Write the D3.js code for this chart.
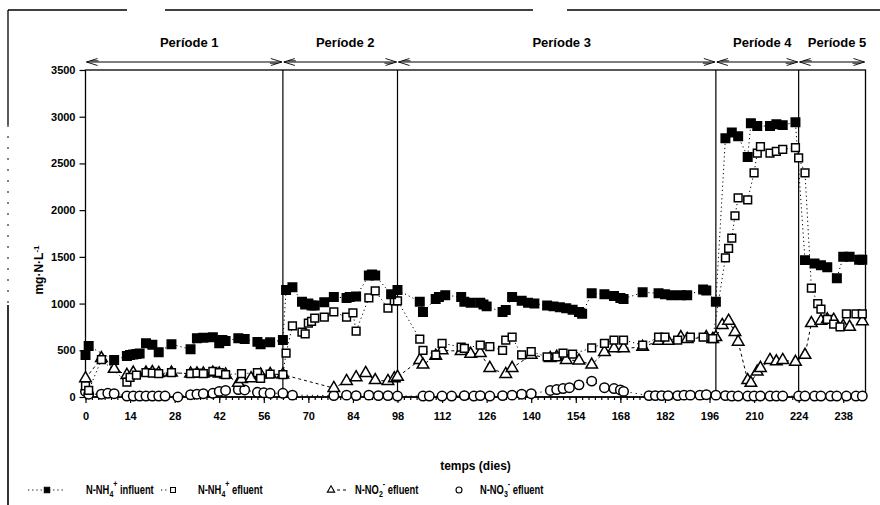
<!DOCTYPE html>
<html>
<head>
<meta charset="utf-8">
<script src="https://cdn.jsdelivr.net/npm/d3@7"></script>
<style>
  body { margin: 0; background: #fff; }
  text { font-family: "Liberation Sans Narrow", "Liberation Sans", Arial, sans-serif; fill: #000; }
</style>
</head>
<body>
<div id="chart"></div>
<script>
// ---- data ----

// N-NH4+ influent (filled marks)
const influentDays = [0, 1, 9, 13, 14, 15, 16, 17, 19, 21, 23, 27, 33, 35, 37, 40, 42, 43, 44, 48, 50, 54, 55, 58, 62,
  63, 65, 68, 69, 70, 71, 72, 75, 78, 82, 83, 85, 89, 90, 91, 96, 98,
  105, 106, 110, 111, 113, 118, 119, 121, 124, 125, 126, 131, 132, 134, 137, 139, 141, 145, 147, 149, 151, 153, 155, 156, 159, 163, 166, 168, 169, 175, 180, 182, 184, 187, 189, 194, 195, 198,
  201, 203, 205, 208, 209, 211, 215, 217, 219, 223, 226, 229, 231, 233, 236, 238, 240, 243, 244];
const influentValues = [450, 545, 395, 440, 450, 455, 460, 465, 575, 560, 480, 565, 510, 630, 635, 640, 575, 610, 600, 630, 620, 590, 565, 585, 610,
  1145, 1175, 1020, 990, 1000, 980, 980, 1015, 1070, 1060, 1070, 1075, 1300, 1310, 1300, 1100, 1145,
  1020, 910, 1050, 1070, 1090, 1070, 1020, 1010, 1010, 990, 970, 910, 930, 1070, 1030, 1010, 1000, 980, 970, 960, 950, 935, 910, 890, 1110, 1100, 1080, 1060, 1050, 1120, 1110, 1100, 1090, 1090, 1090, 1150, 1140, 1020,
  2770, 2830, 2790, 2570, 2930, 2900, 2900, 2920, 2910, 2940, 1465, 1430, 1410, 1390, 1270, 1500, 1500, 1470, 1470];

// N-NH4+ effluent (open squares)
const nh4Days = [0, 1, 5, 13, 14, 16, 19, 21, 23, 27, 33, 35, 37, 40, 42, 44, 49, 54, 55, 58, 62,
  63, 65, 68, 69, 70, 71, 72, 75, 78, 82, 84, 85, 89, 91, 95, 97,
  98, 105, 106, 110, 112, 118, 119, 124, 127, 131, 132, 134, 137, 140, 145, 148, 150, 153, 159, 163, 166, 169, 175, 180, 182, 186, 190, 194, 197,
  201, 202, 203, 204, 205, 208, 210, 211, 212, 215, 217, 219, 223, 224, 226, 228, 230, 231, 233, 235, 237, 239, 242, 244];
const nh4Values = [120, 70, 400, 160, 210, 235, 260, 255, 250, 260, 250, 255, 250, 275, 260, 240, 250, 260, 200, 245, 240,
  470, 760, 695, 675, 790, 810, 845, 855, 910, 855, 900, 705, 1060, 1135, 950, 1030,
  1030, 620, 500, 450, 575, 535, 520, 555, 540, 500, 610, 640, 450, 485, 430, 430, 470, 460, 525, 575, 610, 610, 555, 640, 640, 610, 640, 640, 625,
  1490, 1590, 1700, 1940, 2130, 2110, 2400, 2610, 2680, 2610, 2630, 2650, 2670, 2560, 2400, 1165, 1000, 940, 830, 780, 750, 890, 890, 890];

// N-NO2- effluent (open triangles)
const no2Days = [0, 5, 9, 13, 15, 19, 21, 23, 27, 33, 35, 37, 40, 42, 44, 48, 49, 52, 55, 58, 62,
  78, 82, 85, 88, 91, 95, 97,
  98, 105, 106, 110, 112, 118, 121, 124, 127, 132, 134, 140, 146, 148, 151, 155, 159, 163, 166, 169, 175, 180, 183, 187, 189, 195, 197,
  198, 200, 202, 204, 205, 208, 209, 211, 212, 215, 217, 219, 223, 226, 228, 231, 233, 235, 238, 240, 244];
const no2Values = [200, 415, 300, 235, 260, 260, 265, 255, 260, 250, 250, 250, 260, 250, 240, 150, 190, 200, 240, 245, 240,
  95, 170, 210, 255, 180, 170, 200,
  215, 395, 345, 440, 500, 490, 460, 470, 310, 245, 310, 450, 415, 430, 395, 390, 345, 480, 520, 520, 535, 600, 600, 640, 620, 640, 620,
  640, 770, 815, 695, 590, 180, 150, 270, 310, 395, 380, 395, 375, 450, 790, 815, 830, 825, 760, 750, 810];

// N-NO3- effluent (open circles)
const no3Days = [0, 1, 5, 7, 9, 13, 15, 17, 19, 21, 23, 25, 29, 33, 35, 37, 40, 42, 44, 48, 50, 54, 56, 58, 62,
  65, 78, 82, 85, 89, 92, 95, 98,
  106, 108, 112, 115, 119, 122, 124, 127, 131, 134, 137, 140, 146, 148, 150, 152, 155, 159, 163, 166, 168, 169, 177, 179, 181, 183, 186, 188, 190, 193, 195, 198,
  201, 203, 205, 208, 210, 212, 215, 217, 219, 224, 226, 229, 231, 234, 236, 239, 242, 244];
const no3Values = [60, 30, 30, 40, 35, 10, 10, 10, 10, 10, 10, 10, 0, 25, 30, 35, 40, 60, 70, 80, 75, 50, 45, 40, 40,
  20, 15, 20, 15, 20, 15, 15, 10,
  10, 10, 10, 10, 15, 10, 15, 10, 15, 20, 30, 35, 70, 80, 90, 100, 130, 170, 100, 90, 75, 60, 15, 15, 15, 15, 15, 20, 20, 20, 25, 20,
  15, 10, 10, 10, 10, 10, 10, 10, 10, 10, 10, 10, 10, 10, 10, 10, 10, 10];

// periods
const periodNames = ["Període 1", "Període 2", "Període 3", "Període 4", "Període 5"];
const periodStarts = [0, 62, 98, 198, 224];
const periodEnds = [62, 98, 198, 224, 245];

const xTicks = [0, 14, 28, 42, 56, 70, 84, 98, 112, 126, 140, 154, 168, 182, 196, 210, 224, 238];
const yTicks = [0, 500, 1000, 1500, 2000, 2500, 3000, 3500];

// ---- layout ----
const W = 880, H = 505;
const svg = d3.select("#chart").append("svg")
    .attr("width", W)
    .attr("height", H);

const x = d3.scaleLinear().domain([0, 245]).range([85.5, 865.5]);
const y = d3.scaleLinear().domain([0, 3500]).range([397, 70]);

// scan frame remains (page border)
svg.append("line").attr("x1", 8).attr("y1", 10).attr("x2", 127).attr("y2", 10).attr("stroke", "#000").attr("stroke-width", 1.3);
svg.append("line").attr("x1", 165).attr("y1", 10).attr("x2", 533).attr("y2", 10).attr("stroke", "#000").attr("stroke-width", 1.3);
svg.append("line").attr("x1", 567).attr("y1", 10).attr("x2", 880).attr("y2", 10).attr("stroke", "#000").attr("stroke-width", 1.3);
svg.append("line").attr("x1", 8).attr("y1", 10).attr("x2", 8).attr("y2", 125).attr("stroke", "#000").attr("stroke-width", 1.3);
svg.append("line").attr("x1", 8).attr("y1", 125).attr("x2", 8).attr("y2", 305).attr("stroke", "#000").attr("stroke-width", 1).attr("stroke-dasharray", "2,9");
svg.append("line").attr("x1", 8).attr("y1", 305).attr("x2", 8).attr("y2", 505).attr("stroke", "#000").attr("stroke-width", 1.6);

// plot frame
svg.append("rect")
    .attr("x", x(0)).attr("y", y(3500))
    .attr("width", x(245) - x(0)).attr("height", y(0) - y(3500))
    .attr("fill", "none").attr("stroke", "#000").attr("stroke-width", 1.3);

// period separators
svg.selectAll(".sep")
  .data(periodStarts.slice(1))
  .enter().append("line")
    .attr("x1", d => x(d)).attr("x2", d => x(d))
    .attr("y1", y(3500)).attr("y2", y(0))
    .attr("stroke", "#000").attr("stroke-width", 1.2);

// period arrows + labels
const arrowY = 62;
periodNames.forEach(function(name, i) {
  const x0 = x(periodStarts[i]) + 1, x1 = x(periodEnds[i]) - 1;
  svg.append("line").attr("x1", x0).attr("x2", x1).attr("y1", arrowY).attr("y2", arrowY)
    .attr("stroke", "#000").attr("stroke-width", 1);
  svg.append("path")
    .attr("d", `M${x0 + 11},${arrowY - 3.5} L${x0},${arrowY} L${x0 + 11},${arrowY + 3.5} M${x0 + 4},${arrowY - 1.2} L${x0 + 12},${arrowY - 1.2}`)
    .attr("fill", "none").attr("stroke", "#000").attr("stroke-width", 0.9);
  svg.append("path")
    .attr("d", `M${x1 - 11},${arrowY - 3.5} L${x1},${arrowY} L${x1 - 11},${arrowY + 3.5} M${x1 - 4},${arrowY + 1.2} L${x1 - 12},${arrowY + 1.2}`)
    .attr("fill", "none").attr("stroke", "#000").attr("stroke-width", 0.9);
  svg.append("text")
    .attr("x", (x0 + x1) / 2 + 5).attr("y", 47)
    .attr("text-anchor", "middle")
    .style("font-size", "13px")
    .style("font-weight", "bold")
    .text(name);
});

// axes
const yAxis = svg.append("g")
    .attr("transform", `translate(${x(0)},0)`)
    .call(d3.axisLeft(y).tickValues(yTicks).tickSize(6).tickPadding(4).tickFormat(d3.format("d")));
const xMinor = svg.append("g")
    .attr("transform", `translate(0,${y(0)})`)
    .call(d3.axisBottom(x).tickValues(d3.range(0, 245, 2)).tickSize(3).tickFormat(""));
const xAxis = svg.append("g")
    .attr("transform", `translate(0,${y(0)})`)
    .call(d3.axisBottom(x).tickValues(xTicks).tickSize(6).tickPadding(9));

[yAxis, xAxis, xMinor].forEach(function(g) {
  g.select(".domain").remove();
  g.selectAll("line").attr("stroke", "#000").attr("stroke-width", 1.2);
  g.selectAll("text")
    .style("font-family", '"Liberation Sans Narrow", "Liberation Sans", Arial, sans-serif')
    .style("font-size", "11px")
    .style("font-weight", "bold");
});
svg.append("line").attr("x1", x(0)).attr("x2", x(245)).attr("y1", y(0)).attr("y2", y(0))
  .attr("stroke", "#000").attr("stroke-width", 1.5);

// axis titles
svg.append("text")
    .attr("transform", "translate(43,270) rotate(-90)")
    .attr("text-anchor", "middle")
    .style("font-size", "12px")
    .style("font-weight", "bold")
    .call(t => {
      t.append("tspan").text("mg·N·L");
      t.append("tspan").attr("dy", -4).style("font-size", "8px").text("-1");
    });
svg.append("text")
    .attr("x", x(122.5)).attr("y", 470)
    .attr("text-anchor", "middle")
    .style("font-size", "12px")
    .style("font-weight", "bold")
    .text("temps (dies)");

// ---- series ----
const series = [
  {days: influentDays, values: influentValues, shape: d3.symbolSquare, size: 72, fill: "#000", dash: "1.2,3"},
  {days: nh4Days, values: nh4Values, shape: d3.symbolSquare, size: 60, fill: "#fff", dash: "1.2,3"},
  {days: no2Days, values: no2Values, shape: d3.symbolTriangle, size: 58, fill: "#fff", dash: "3,3"},
  {days: no3Days, values: no3Values, shape: d3.symbolCircle, size: 70, fill: "#fff", dash: "1.2,4"}
];

const line = d3.line().x(d => x(d[0])).y(d => y(d[1]));

series.forEach(function(s) {
  const pts = s.days.map((d, i) => [d, s.values[i]]);
  svg.append("path")
    .datum(pts)
    .attr("d", line)
    .attr("fill", "none")
    .attr("stroke", "#000")
    .attr("stroke-width", 1)
    .attr("stroke-dasharray", s.dash);
});

series.slice().reverse().forEach(function(s) {
  const pts = s.days.map((d, i) => [d, s.values[i]]);
  svg.append("g").selectAll("path")
    .data(pts)
    .enter().append("path")
      .attr("transform", d => `translate(${x(d[0])},${y(d[1])})`)
      .attr("d", d3.symbol().type(s.shape).size(s.size))
      .attr("fill", s.fill)
      .attr("stroke", "#000")
      .attr("stroke-width", 1.5);
});

// ---- legend ----
const legendY = 494;
const legendItems = [
  {label: ["N-NH", "4", "+", " influent"], sym: 0, lx0: 28, lx1: 64, sx: 47, tx: 86},
  {label: ["N-NH", "4", "+", " efluent"], sym: 1, lx0: 161, lx1: 168, sx: 173, tx: 198},
  {label: ["N-NO", "2", "-", " efluent"], sym: 2, lx0: 331, lx1: 349, sx: 331, tx: 355},
  {label: ["N-NO", "3", "-", " efluent"], sym: 3, lx0: 459, lx1: 459, sx: 459, tx: 480}
];
legendItems.forEach(function(it) {
  const s = series[it.sym];
  if (it.lx1 > it.lx0) {
    svg.append("line").attr("x1", it.lx0).attr("x2", it.lx1).attr("y1", legendY - 4).attr("y2", legendY - 4)
      .attr("stroke", "#000").attr("stroke-width", 1).attr("stroke-dasharray", s.dash);
  }
  svg.append("path")
    .attr("transform", `translate(${it.sx},${legendY - 4})`)
    .attr("d", d3.symbol().type(s.shape).size(s.size * 0.4))
    .attr("fill", s.fill).attr("stroke", "#000").attr("stroke-width", 1.1);
  // narrow lettering like the scan: squeeze text horizontally
  const t = svg.append("text")
    .attr("transform", `translate(${it.tx},${legendY}) scale(0.78,1)`)
    .style("font-size", "12px").style("font-weight", "bold");
  t.append("tspan").text(it.label[0]);
  t.append("tspan").attr("dy", 3).style("font-size", "9px").text(it.label[1]);
  t.append("tspan").attr("dy", -10).style("font-size", "9px").text(it.label[2]);
  t.append("tspan").attr("dy", 7).text(it.label[3]);
});
</script>
</body>
</html>
